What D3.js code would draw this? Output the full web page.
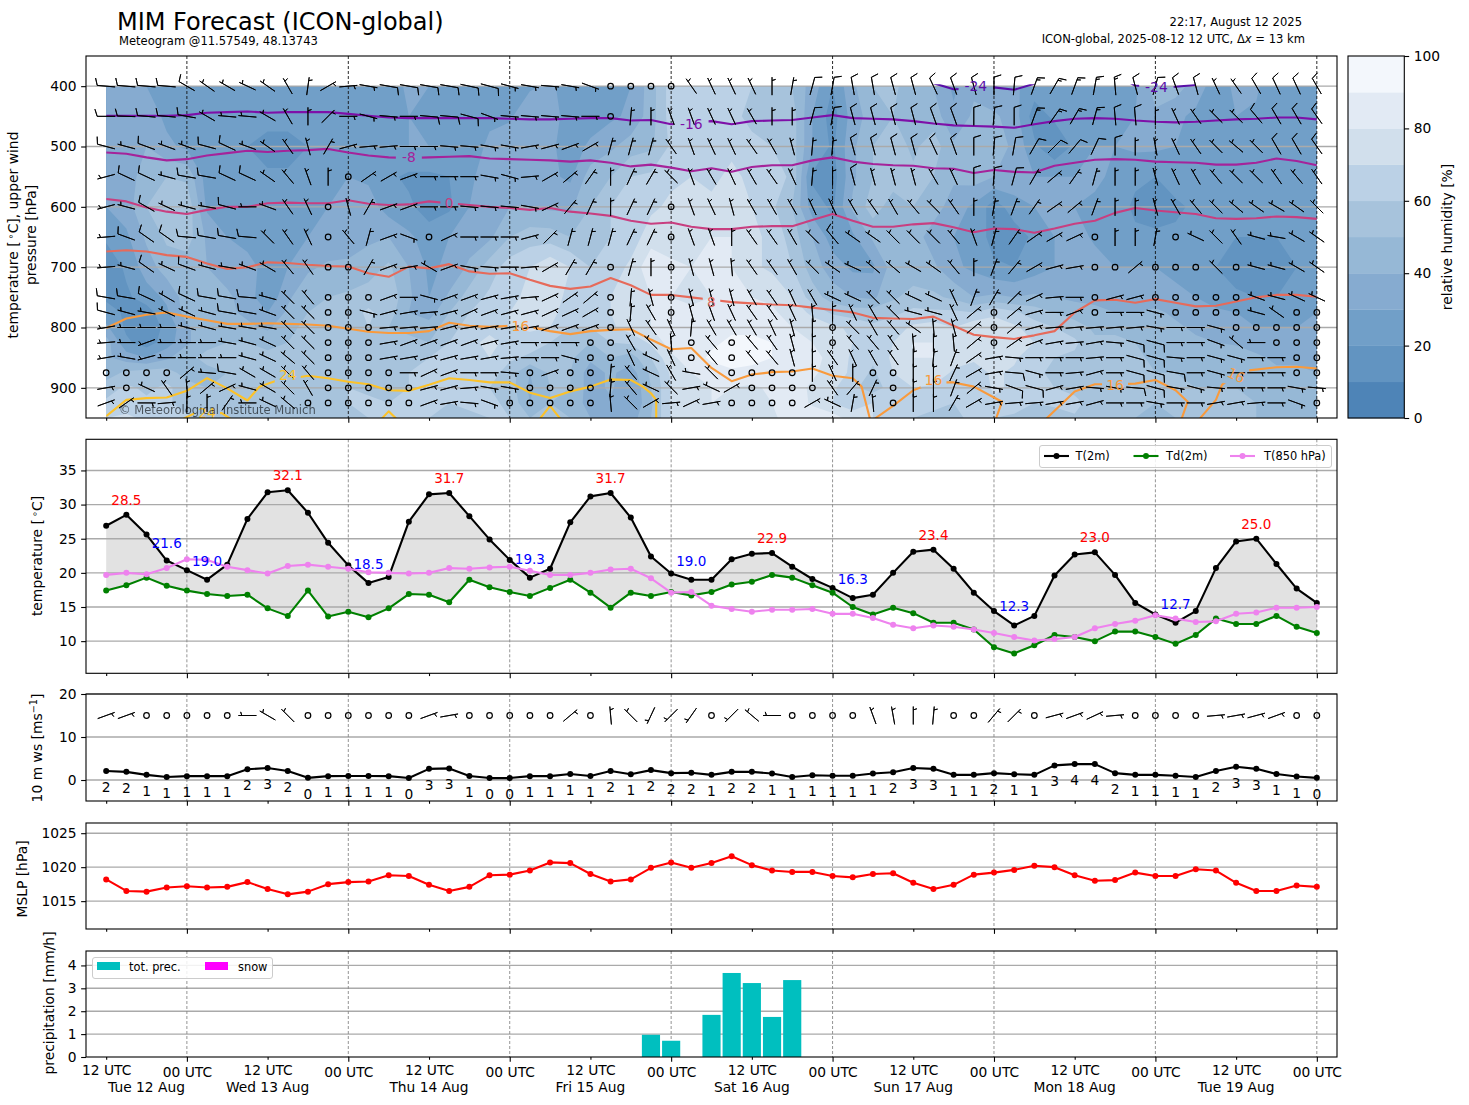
<!DOCTYPE html>
<html><head><meta charset="utf-8">
<script src="https://cdn.jsdelivr.net/npm/d3@7/dist/d3.min.js"></script>
<style>
html,body{margin:0;padding:0;background:#fff}
svg{display:block}
text{font-family:"DejaVu Sans",sans-serif;fill:#000}
</style></head><body><svg id="c" width="1469" height="1105"></svg>
<script>
// ---------- time axis ----------
const tick12 = [0,8,16,24,32,40,48,56];
const tick00 = [4,12,20,28,36,44,52,60];
const dateIdx = [2,8,16,24,32,40,48,56];
const dateLabels = ["Tue 12 Aug","Wed 13 Aug","Thu 14 Aug","Fri 15 Aug","Sat 16 Aug","Sun 17 Aug","Mon 18 Aug","Tue 19 Aug"];

// ---------- surface series ----------
const t2m = [26.9,28.5,25.6,21.8,20.4,19.0,21.2,27.9,31.8,32.1,28.8,24.4,21.1,18.5,19.4,27.5,31.5,31.7,28.3,24.9,21.9,19.3,20.6,27.4,31.2,31.7,28.1,22.4,19.9,19.0,19.0,22.0,22.8,22.9,20.9,19.1,17.8,16.3,16.8,20.0,23.1,23.4,20.6,17.1,14.4,12.3,13.7,19.6,22.7,23.0,19.7,15.6,13.9,12.7,14.4,20.7,24.6,25.0,21.3,17.7,15.6];
const td2m = [17.4,18.2,19.3,18.1,17.4,16.9,16.6,16.8,14.8,13.7,17.4,13.6,14.3,13.5,14.8,16.9,16.8,15.7,19.0,17.9,17.2,16.6,17.8,19.0,17.1,14.9,17.1,16.6,17.2,16.7,17.2,18.3,18.7,19.7,19.3,18.2,17.1,15.0,13.9,14.9,14.1,12.7,12.7,11.7,9.1,8.2,9.4,10.9,10.6,10.0,11.4,11.4,10.6,9.6,10.9,13.3,12.5,12.5,13.7,12.1,11.2];
const t850 = [19.7,20.0,19.8,20.7,22.0,21.9,20.9,20.4,19.9,21.0,21.2,20.9,20.6,20.1,20.0,19.9,20.0,20.7,20.6,20.8,20.9,20.3,19.7,19.7,20.0,20.5,20.6,19.2,17.1,17.2,15.2,14.7,14.3,14.6,14.6,14.7,14.0,14.0,13.4,12.4,11.9,12.3,12.1,11.7,11.2,10.6,10.1,10.3,10.6,11.9,12.5,13.0,13.8,13.3,12.8,12.9,14.0,14.2,14.9,14.9,15.0];
const maxIdx = [1,9,17,25,33,41,49,57];
const maxVal = [28.5,32.1,31.7,31.7,22.9,23.4,23.0,25.0];
const minIdx = [3,5,13,21,29,37,45,53];
const minVal = [21.6,19.0,18.5,19.3,19.0,16.3,12.3,12.7];
const ws10 = [2.1,1.9,1.2,0.7,0.9,0.9,0.9,2.5,2.8,2.1,0.5,0.9,0.95,0.95,0.9,0.45,2.6,2.7,0.95,0.45,0.45,0.9,0.9,1.4,0.95,2.1,1.35,2.3,1.6,1.7,1.2,1.9,1.9,1.5,0.7,1.1,1.0,1.0,1.5,1.8,2.8,2.6,1.2,1.2,1.6,1.35,1.2,3.4,3.7,3.7,1.6,1.2,1.2,1.0,0.7,2.1,3.1,2.6,1.4,0.8,0.5];
const wsLabels = [2,2,1,1,1,1,1,2,3,2,0,1,1,1,1,0,3,3,1,0,0,1,1,1,1,2,1,2,2,2,1,2,2,1,1,1,1,1,1,2,3,3,1,1,2,1,1,3,4,4,2,1,1,1,1,2,3,3,1,1,0];
const dir10 = [70,70,0,0,0,0,0,270,300,315,0,0,0,0,0,0,70,80,0,0,0,0,0,50,0,355,315,205,225,215,0,225,310,270,0,0,0,0,340,350,0,5,0,0,40,45,0,75,70,65,85,0,0,0,0,85,80,75,70,0,0];
const mslp = [1018.2,1016.5,1016.4,1017.0,1017.2,1017.0,1017.1,1017.8,1016.8,1016.0,1016.4,1017.5,1017.8,1017.9,1018.8,1018.7,1017.4,1016.5,1017.1,1018.8,1018.9,1019.5,1020.7,1020.6,1019.0,1017.9,1018.2,1019.9,1020.7,1019.9,1020.6,1021.6,1020.3,1019.5,1019.3,1019.3,1018.7,1018.5,1019.0,1019.1,1017.7,1016.8,1017.4,1018.9,1019.2,1019.6,1020.2,1020.0,1018.8,1018.0,1018.1,1019.2,1018.7,1018.7,1019.7,1019.5,1017.7,1016.5,1016.5,1017.3,1017.1];
const precIdx = [27,28,30,31,32,33,34];
const precVal = [0.97,0.71,1.84,3.67,3.23,1.75,3.36];

// ---------- relative humidity [%] on pressure levels ----------
const levelsRH = [400,450,500,550,600,650,700,750,775,800,825,850,875,900,925,950];
const rh400=[35,30,30,25,28,30,25,25,28,28,25,22,20,25,25,32,30,28,28,28,25,28,32,25,20,28,30,45,65,62,60,62,60,55,50,35,20,38,50,52,45,40,28,38,30,32,25,28,28,30,30,28,45,45,35,25,32,32,20,22,25];
const rh450=[32,32,35,28,26,25,25,20,25,25,22,22,22,25,28,30,28,25,28,28,28,40,35,25,25,28,32,45,65,65,60,62,58,55,55,30,15,35,45,50,45,45,32,42,42,35,15,22,28,28,28,30,38,32,28,28,30,28,25,22,22];
const rh500=[32,35,40,32,28,22,22,20,15,15,20,22,25,25,28,30,30,25,25,32,38,38,32,25,32,38,45,48,62,65,68,68,62,60,55,30,18,38,50,55,48,55,42,45,45,38,22,12,22,30,30,32,32,30,28,28,28,28,25,25,25];
const rh550=[30,35,45,50,48,25,22,22,22,22,25,28,30,28,22,18,18,20,28,35,35,35,32,28,45,50,60,62,68,70,68,72,68,65,58,18,15,38,50,55,52,50,42,45,40,38,30,30,30,32,28,22,20,25,25,22,25,28,28,30,30];
const rh600=[30,35,50,55,58,28,25,22,22,22,25,30,32,35,25,22,15,18,30,35,40,40,38,38,50,60,62,68,72,72,72,72,70,62,50,25,18,42,55,45,50,45,35,28,15,25,30,30,30,28,25,18,15,18,22,22,22,22,25,25,25];
const rh650=[22,28,42,52,55,38,30,25,22,28,30,32,35,38,40,32,25,30,35,38,50,55,55,50,58,60,65,75,75,78,80,80,72,68,55,40,25,28,42,42,45,35,30,28,15,15,22,30,35,28,22,22,22,22,22,20,20,20,20,22,25];
const rh700=[12,22,35,45,45,40,35,35,25,30,38,42,42,45,52,40,28,32,42,55,65,70,78,70,60,65,72,88,82,80,82,80,72,68,60,45,35,28,28,45,42,42,32,28,22,20,25,30,30,35,30,30,30,28,25,20,15,15,18,20,25];
const rh750=[18,18,25,32,45,48,42,35,22,38,48,50,52,55,58,42,30,42,55,62,68,72,78,65,62,70,78,80,80,78,80,80,80,78,70,55,45,40,38,48,55,52,48,40,42,40,42,40,38,38,35,35,35,32,30,25,22,20,20,22,25];
const rh775=[25,18,15,28,45,48,42,38,30,42,50,55,55,62,55,40,35,50,60,65,70,72,75,62,62,70,78,80,82,82,82,85,85,82,75,68,58,55,55,58,62,62,62,60,68,62,55,50,45,42,40,40,42,38,35,32,30,28,28,28,30];
const rh800=[32,18,15,22,38,48,45,42,38,48,52,55,58,60,50,45,45,55,65,68,70,72,70,60,60,68,75,80,85,85,85,88,88,88,80,75,72,68,62,65,72,75,70,78,75,72,65,60,55,48,48,48,45,42,38,35,32,30,30,30,32];
const rh825=[45,22,15,25,38,48,50,50,48,50,55,55,60,58,55,55,50,60,68,72,68,65,60,55,50,60,62,72,85,85,88,92,92,90,85,80,75,70,65,70,80,80,72,80,80,78,70,68,62,52,52,50,48,48,42,40,38,35,35,35,35];
const rh850=[42,35,30,38,48,52,50,50,52,52,55,55,60,58,58,58,60,62,65,70,62,58,55,52,42,50,45,60,78,85,92,95,92,90,85,82,78,68,62,72,80,80,75,72,78,72,62,60,58,58,55,52,48,48,45,45,48,42,38,38,38];
const rh875=[45,52,55,55,45,48,50,52,50,50,55,55,60,58,58,60,62,60,62,65,55,40,52,50,35,42,35,52,72,80,85,88,88,88,85,82,75,68,58,70,75,78,68,65,72,68,62,58,55,60,55,55,50,50,48,48,48,48,42,42,40];
const rh900=[55,62,58,62,55,50,50,52,50,50,55,55,60,58,55,60,65,62,60,60,55,38,50,50,35,42,30,50,70,78,80,80,78,82,85,78,72,62,55,65,70,68,62,60,72,68,60,60,55,55,60,52,52,50,50,50,50,48,45,42,42];
const rh925=[62,65,62,62,55,50,52,52,50,50,55,58,60,62,60,60,62,60,62,62,58,40,50,48,35,38,30,48,72,78,80,78,75,80,88,78,70,65,70,65,60,62,60,62,68,65,60,62,65,52,55,52,50,52,55,58,55,50,48,45,42];
const rh950=[70,72,68,65,62,55,55,52,52,52,52,55,58,60,62,60,60,58,58,60,60,50,50,50,40,40,35,50,70,72,78,78,78,78,85,88,85,75,70,62,60,58,58,62,60,58,55,55,58,52,50,50,48,50,55,60,55,50,48,45,42];
const rhLevels = [0,10,20,30,40,50,60,70,80,90];
const rhColors = ["#4e84b7","#6294c1","#719fc8","#86abd0","#96b8d6","#a7c3dc","#bbd1e6","#d1dfec","#e2eaf4","#f3f7fc"];

// ---------- upper wind, speed [kn] and direction [deg] ----------
const windLevels = [400,450,500,550,600,650,700,750,775,800,825,850,875,900,925];
const spd400=[10,10,10,10,10,5,5,5,5,5,5,5,5,5,10,10,10,10,10,10,5,5,5,5,5,0,0,0,0,5,5,5,5,5,5,10,10,10,10,10,10,10,10,10,10,10,15,15,15,15,15,10,10,10,10,5,5,10,10,10,10];
const dir400=[275,275,275,275,300,305,300,295,305,330,8,60,85,100,100,100,100,100,102,105,105,100,95,100,110,0,0,0,0,325,335,335,335,0,10,15,10,350,350,345,345,335,340,345,0,5,20,30,20,10,355,345,15,340,345,335,325,330,335,335,330];
const spd450=[10,10,10,10,10,5,5,5,5,5,5,5,5,5,5,5,10,10,10,5,5,5,5,5,5,0,5,5,5,5,5,5,5,5,5,10,10,10,10,10,10,10,10,10,10,10,15,15,15,15,10,10,5,5,5,5,5,10,10,10,10];
const dir450=[270,272,275,275,280,300,275,275,300,330,0,45,90,105,95,90,95,95,105,110,95,95,95,95,90,0,5,0,340,340,335,335,330,0,0,15,10,345,345,345,345,340,340,0,5,0,20,35,30,15,355,355,0,335,325,315,315,320,330,330,325];
const spd500=[10,5,10,5,5,10,10,5,5,5,5,5,5,5,5,5,5,5,5,5,5,5,5,5,5,5,5,5,5,5,5,5,5,5,5,5,5,10,10,10,10,10,10,10,10,10,10,10,10,10,10,5,5,5,5,5,5,5,10,10,10];
const dir500=[285,285,290,290,290,285,295,290,305,325,345,30,75,85,85,90,90,95,95,100,100,80,75,70,60,15,15,15,325,340,335,335,325,330,345,5,5,345,345,345,345,335,340,0,5,10,30,45,40,25,0,0,350,335,325,315,310,315,330,330,325];
const spd550=[5,10,10,5,10,10,10,10,5,5,5,5,0,5,5,5,5,5,5,5,5,5,5,5,5,5,5,5,5,5,5,5,5,5,5,5,5,10,5,5,5,5,5,10,10,10,5,5,5,5,5,5,5,5,5,5,5,5,5,5,5];
const dir550=[255,295,295,285,280,280,295,295,305,320,340,0,0,55,60,70,90,90,90,100,105,85,60,50,35,0,25,30,315,340,330,335,330,325,335,5,0,345,345,345,345,330,335,0,5,15,30,50,35,15,0,0,345,335,330,320,315,315,325,320,325];
const spd600=[5,5,10,5,5,5,10,5,5,5,5,0,5,5,5,5,5,5,5,5,5,5,5,5,5,5,5,5,0,5,5,5,5,5,5,5,5,5,5,5,5,5,5,5,5,5,5,5,5,5,5,5,5,5,5,5,5,5,5,5,5];
const dir600=[255,285,300,295,285,280,285,270,290,325,335,0,345,30,70,70,90,90,95,95,95,100,65,40,25,0,25,25,0,340,335,345,330,330,330,335,335,330,325,330,320,315,325,0,10,20,35,55,50,20,0,0,345,330,320,315,310,305,300,305,315];
const spd650=[5,10,10,10,10,10,10,10,5,5,5,0,5,5,5,5,0,5,5,5,5,5,5,5,5,5,5,5,0,5,5,5,5,5,5,5,10,5,5,5,5,5,5,5,5,5,5,5,5,0,5,5,5,0,5,5,5,5,5,5,5];
const dir650=[265,290,305,305,275,280,280,275,315,325,335,0,320,15,70,110,0,65,90,90,90,75,45,15,15,15,25,25,0,340,340,0,325,325,330,315,320,305,305,315,315,315,320,340,15,35,55,60,65,0,0,0,10,0,295,315,325,285,280,300,305];
const spd700=[5,5,10,5,10,5,5,5,5,5,5,0,0,5,5,5,5,5,5,5,5,5,5,5,5,0,5,5,0,5,5,5,5,5,5,5,5,5,5,5,5,5,5,5,5,5,5,5,5,0,0,5,0,0,0,5,0,5,5,5,5];
const dir700=[265,285,305,295,290,285,280,290,300,320,325,0,0,30,70,80,300,70,100,95,90,85,60,30,30,0,15,0,0,345,345,355,325,325,330,315,305,295,310,310,300,305,320,0,20,40,60,75,80,0,0,50,0,0,0,315,0,285,285,300,305];
const spd750=[10,10,10,5,10,10,10,10,5,5,5,0,0,0,5,5,5,5,5,5,5,5,5,5,5,0,5,5,0,5,5,5,5,5,5,5,5,5,5,5,5,5,5,5,5,5,5,5,5,0,5,5,0,0,0,0,0,5,5,5,5];
const dir750=[280,280,295,300,295,280,280,275,285,315,320,0,0,0,70,90,105,70,70,75,80,85,65,55,50,0,5,345,0,345,345,345,330,325,335,330,295,295,315,315,295,295,335,20,30,45,65,85,90,0,75,75,0,0,0,0,0,290,285,295,295];
const spd775=[10,5,5,5,5,5,10,10,5,5,5,0,0,5,5,5,5,5,5,5,5,5,5,5,5,0,5,5,0,5,5,5,5,5,5,5,5,5,5,5,5,5,5,5,0,5,5,5,5,0,5,5,5,0,0,0,0,5,5,0,0];
const dir775=[285,285,280,295,295,285,280,280,290,315,315,0,0,105,75,80,85,75,65,70,75,75,65,65,60,0,5,330,0,345,340,335,325,325,335,355,0,335,330,315,285,285,335,50,0,50,75,90,70,0,90,90,105,0,0,0,0,285,305,0,0];
const spd800=[5,5,5,5,5,5,5,5,5,5,5,0,0,0,5,5,5,5,5,5,5,5,5,5,5,0,5,5,5,5,5,5,5,5,5,5,0,5,5,5,5,5,5,5,0,5,5,5,5,5,5,5,5,5,5,5,0,0,0,0,0];
const dir800=[260,270,270,270,285,285,280,280,280,315,315,0,0,0,85,85,85,75,80,80,80,80,70,70,70,0,335,325,335,5,330,330,330,335,345,0,0,315,330,320,305,355,345,50,0,50,75,85,85,85,85,85,100,90,90,105,0,0,0,0,0];
const spd825=[5,5,5,5,5,5,5,5,5,5,5,0,0,0,5,5,5,5,5,5,5,5,5,5,0,0,5,5,5,0,5,0,5,5,5,5,0,5,5,5,5,5,5,5,0,5,5,5,5,5,5,10,10,5,5,5,5,5,0,0,0];
const dir825=[265,270,250,270,270,270,280,285,295,315,315,0,0,0,80,70,70,70,70,75,80,90,90,90,0,0,330,315,355,0,320,0,320,325,345,0,0,320,320,325,355,0,355,50,0,55,70,80,85,80,95,105,105,90,90,110,310,270,0,0,0];
const spd850=[5,5,5,5,5,5,5,5,5,5,5,0,0,0,5,5,5,5,5,5,5,5,5,5,0,0,5,5,5,0,5,0,5,5,5,5,5,5,5,5,5,5,5,5,5,5,5,5,5,5,5,10,10,5,5,5,5,5,5,0,0];
const dir850=[260,280,255,270,270,270,270,285,295,310,315,0,0,0,80,80,75,75,80,80,85,90,90,105,0,0,335,295,335,0,320,0,320,320,345,0,325,335,330,325,0,5,20,55,80,95,90,90,90,85,90,105,105,95,90,105,105,90,90,0,0];
const spd875=[0,0,0,0,5,5,10,5,5,5,5,0,0,0,0,5,5,5,5,5,5,0,5,0,0,5,5,5,5,5,5,0,0,0,0,5,5,5,0,0,5,5,5,5,5,10,5,5,5,5,5,10,10,10,5,5,5,5,5,0,0];
const dir875=[0,0,0,0,50,275,280,300,300,315,320,0,0,0,0,90,65,70,90,90,95,0,70,0,0,5,320,295,330,280,315,0,0,0,0,0,335,0,0,0,0,0,25,60,80,95,105,90,85,75,90,105,105,100,90,105,90,90,90,0,0];
const spd900=[5,0,5,5,5,5,5,5,5,5,5,0,0,0,0,0,5,5,5,5,5,0,0,0,0,5,5,5,5,5,5,5,0,0,0,0,5,5,5,0,5,5,5,5,5,10,10,5,5,5,5,10,10,5,5,5,5,5,5,5,5];
const dir900=[80,0,295,325,355,50,65,285,300,315,330,0,0,0,0,0,75,75,85,100,100,0,0,0,0,5,320,295,315,80,295,60,0,0,0,0,325,40,25,0,0,0,20,50,100,110,105,75,80,95,100,95,105,100,105,95,90,90,90,100,95];
const spd925=[5,5,5,5,5,5,5,5,5,5,0,0,0,0,0,0,5,5,5,5,0,0,0,0,0,5,5,5,5,5,5,0,0,0,0,5,5,5,5,0,5,5,5,5,5,5,5,5,5,5,5,5,5,5,5,5,5,5,5,5,0];
const dir925=[70,55,90,85,0,0,35,270,295,310,0,0,0,0,0,0,70,80,95,110,0,0,0,0,0,355,315,60,85,65,80,0,0,0,0,60,295,10,355,0,0,0,30,60,80,85,85,80,80,75,90,90,100,90,90,80,80,85,90,110,0];

// ---------- isotherms: pressure [hPa] of each temperature level ----------
const isoM24a=[[41,395],[42,405],[43,404],[44,402],[45,406],[46,396]];
const isoM24b=[[50,381],[51,399],[52,402],[53,401],[54,398]];
const isoM16=[449,449,449,449,448,444,443,442,444,443,443,443,446,449,452,453,453,453,453,453,454,455,455,454,453,453,457,456,463,460,458,463,458,457,456,452,448,453,454,455,458,462,465,466,467,469,463,458,454,453,454,457,459,460,459,457,455,454,452,452,455];
const isoM8=[510,512,518,523,521,515,511,507,509,507,506,504,510,515,518,519,518,517,516,520,521,522,523,525,523,527,533,530,535,541,536,542,534,531,531,523,518,525,529,531,532,536,537,544,539,542,543,532,527,522,521,522,525,526,527,530,530,527,520,524,531];
const iso0=[587,591,601,608,612,605,600,600,594,593,594,594,589,595,597,596,591,594,597,600,602,605,602,608,611,615,623,628,626,633,637,637,633,632,632,622,612,623,633,633,629,627,634,642,636,637,643,636,628,623,610,602,606,609,612,619,620,619,616,617,620];
const iso8=[674,672,674,680,683,694,703,700,692,693,696,698,699,710,716,699,702,695,707,711,710,721,731,736,732,718,730,746,746,750,754,758,760,762,763,767,771,775,784,785,786,782,797,812,816,819,813,806,775,755,754,759,753,759,765,764,757,750,746,746,749];
const iso16a=[[0,801],[1,785],[2,779],[3,775],[4,782],[5,788],[6,794],[7,794],[8,793],[9,794],[10,795],[11,797],[12,802],[13,807],[14,809],[15,809],[16,806],[17,792],[18,797],[19,799],[20,797],[21,799],[22,806],[23,811],[24,806],[25,804],[26,803],[27,820],[28,836],[29,834],[30,867],[31,889],[32,878],[33,874],[34,873],[35,868],[36,880],[37,884],[37.44,898],[37.85,951]];
const iso16b=[[38.1,951],[39,930],[40,904],[41,891],[42,891],[43,898],[44,916],[44.4,923],[44.1,951]];
const iso16c=[[46.6,951],[48,906],[49,894],[50,894],[51,893],[52,887],[53,904],[53.6,923],[53.3,951]];
const iso16d=[[54.2,951],[55,920],[55.3,895],[56,876],[56.65,871],[58,866],[59,865],[60,868]];
const iso24a=[[0,947],[1,920],[2,917],[3,916],[4,905],[5,884],[6,901],[7,921],[7.6,898],[8.36,889],[10,880],[11,884],[12,890],[13,894],[14,904],[15,905],[16,895],[17,884],[18,887],[19,891],[20,891],[21,908],[22,917],[23,906],[24,898],[25,886],[26,887],[26.6,898],[27,909],[27.26,920],[27.26,951]];
const iso24b=[[3.83,951],[4.4,942],[5.73,942],[6.15,951]];
const iso24c=[[13.66,951],[14,939],[14.37,951]];
const iso24d=[[21.5,951],[22,930],[22.5,951]];
const isoLabels=[
 {t:"-24",i:43.1,p:400,k:-24},{t:"-24",i:52.05,p:401,k:-24},{t:"-16",i:29,p:463,k:-16},{t:"-8",i:15,p:518,k:-8},
 {t:"0",i:17,p:594,k:0},{t:"8",i:30,p:757,k:8},{t:"16",i:20.53,p:797,k:16},{t:"24",i:9,p:879,k:24},
 {t:"24",i:5,p:942,k:24},{t:"16",i:41,p:887,k:16},{t:"16",i:50,p:895,k:16},{t:"16",i:56,p:879,k:16,r:25}];
const isoColors={"-24":"#5a10a8","-16":"#7e10a8","-8":"#a5239a","0":"#c83f80","8":"#e66a5a","16":"#f99a3c","24":"#fcc229"};

// ---------- layout ----------
const svg=d3.select("#c");
const L=86,R=1337,BASE=13.8;
const panels={up:[56,418],temp:[439.3,673.3],ws:[694,801],mslp:[823,929],prec:[951,1057]};
const x=d3.scaleLinear().domain([-1,61]).range([L,R]);
const yUp=d3.scaleLinear().domain([350,950]).range(panels.up);
const yT=d3.scaleLinear().domain([5.29,39.56]).range([673.3,439.3]);
const yWs=d3.scaleLinear().domain([-4.88,20]).range([801,694]);
const yP=d3.scaleLinear().domain([1010.9,1026.5]).range([929,823]);
const yPr=d3.scaleLinear().domain([0,4.63]).range([1057,951]);
const defs=svg.append("defs");

function vdash(g,top,bot,color){
  g.selectAll(null).data(tick00).join("line").attr("x1",d=>x(d)).attr("x2",d=>x(d)).attr("y1",top).attr("y2",bot)
   .attr("stroke",color).attr("stroke-width",0.9).attr("stroke-dasharray","3,2");
}
function hgrid(g,scale,vals){
  g.selectAll(null).data(vals).join("line").attr("x1",L).attr("x2",R).attr("y1",d=>scale(d)).attr("y2",d=>scale(d))
   .attr("stroke","#aaaaaa").attr("stroke-width",1.4);
}
function frame(top,bot,left=L,right=R){
  svg.append("rect").attr("x",left).attr("y",top).attr("width",right-left).attr("height",bot-top)
   .attr("fill","none").attr("stroke","#000").attr("stroke-width",1.1);
}
function axes(scale,vals,bot,labels){
  const gy=svg.append("g").attr("transform",`translate(${L},0)`)
    .call(d3.axisLeft(scale).tickValues(vals).tickSize(4.86).tickPadding(4.5).tickFormat(d3.format("d")));
  const g12=svg.append("g").attr("transform",`translate(0,${bot})`)
    .call(d3.axisBottom(x).tickValues(tick12).tickSize(2.78).tickPadding(5.2).tickFormat(()=>labels?"12 UTC":""));
  const g00=svg.append("g").attr("transform",`translate(0,${bot})`)
    .call(d3.axisBottom(x).tickValues(tick00).tickSize(4.86).tickPadding(5.1).tickFormat(()=>labels?"00 UTC":""));
  [gy,g12,g00].forEach(g=>{g.select(".domain").remove();
    g.selectAll("text").style("font-family",'"DejaVu Sans"').style("font-size",BASE+"px").attr("fill","#000");
    g.selectAll("line").attr("stroke-width",1.1);});
}
function ylabel(tx,ty,lines){
  const t=svg.append("text").attr("transform",`translate(${tx},${ty}) rotate(-90)`).attr("text-anchor","middle").style("font-size","13.89px");
  lines(t);
}
function series(g,scale,vals,color,lw=2.1,r=3){
  const line=d3.line().x((d,i)=>x(i)).y(d=>scale(d));
  g.append("path").attr("d",line(vals)).attr("fill","none").attr("stroke",color).attr("stroke-width",lw).attr("stroke-linejoin","round");
  g.selectAll(null).data(vals).join("circle").attr("cx",(d,i)=>x(i)).attr("cy",d=>scale(d)).attr("r",r).attr("fill",color);
}
// wind barb, same construction as a pivot-middle barb symbol
const BL=18,SP=BL*0.125,FH=BL*0.4,FW=BL*0.25;
function barb(g,i,yy,spd,dir){
  const cx=x(i);
  const s=Math.round(spd/5)*5;
  if(s===0){ g.append("circle").attr("cx",cx).attr("cy",yy).attr("r",2.8).attr("fill","none").attr("stroke","#000").attr("stroke-width",1.2); return; }
  const a=dir*Math.PI/180,u=-s*Math.sin(a),v=-s*Math.cos(a);
  const th=Math.atan2(v,u)+Math.PI/2;
  const ey=-BL/2;let off=BL;const pts=[[0,ey]];
  let n10=Math.floor(s/10),n5=(s%10)>=5?1:0;
  for(let k=0;k<n10;k++){pts.push([0,ey+off],[FH,ey+off+FW/2],[0,ey+off]);off-=SP;}
  if(n5){ if(off===BL){pts.push([0,ey+off]);off-=1.5*SP;} pts.push([0,ey+off],[FH/2,ey+off+FW/4],[0,ey+off]); }
  const d="M"+pts.map(p=>[cx+p[0]*Math.cos(th)-p[1]*Math.sin(th), yy-(p[0]*Math.sin(th)+p[1]*Math.cos(th))].map(q=>q.toFixed(2)).join(",")).join("L")+"Z";
  g.append("path").attr("d",d).attr("fill","none").attr("stroke","#000").attr("stroke-width",0.9).attr("stroke-linejoin","round");
}

// ---------- panel 1 ----------
const rhRows=[rh400,rh450,rh500,rh550,rh600,rh650,rh700,rh750,rh775,rh800,rh825,rh850,rh875,rh900,rh925,rh950];
const idxToP=d3.scaleLinear().domain(d3.range(16)).range(levelsRH).clamp(true);
const colX=d3.scaleLinear().domain([0,60]).range([0,60]).clamp(true);
const cont=d3.contours().size([61,16]).thresholds(rhLevels)(rhRows.flat());
const gRH=svg.append("g");
cont.forEach((c,ci)=>{
  let d="";
  c.coordinates.forEach(poly=>poly.forEach(ring=>{
    d+="M"+ring.map(p=>x(colX(p[0]-0.5)).toFixed(2)+","+yUp(idxToP(p[1]-0.5)).toFixed(2)).join("L")+"Z";
  }));
  gRH.append("path").attr("d",d).attr("fill",rhColors[ci]).attr("fill-rule","evenodd");
});
const gUp=svg.append("g");
hgrid(gUp,yUp,[400,500,600,700,800,900]);
vdash(gUp,56,418,"#111");
// isotherms
defs.append("clipPath").attr("id","isoClip").append("rect").attr("x",x(0)).attr("y",yUp(400)-2).attr("width",x(60)-x(0)).attr("height",418-yUp(400)+2);
const mask=defs.append("mask").attr("id","isoMask").attr("maskUnits","userSpaceOnUse").attr("x",0).attr("y",0).attr("width",1469).attr("height",1105);
mask.append("rect").attr("width",1469).attr("height",1105).attr("fill","#fff");
isoLabels.forEach(l=>{const w=9+8.5*l.t.length;
  mask.append("rect").attr("x",x(l.i)-w/2).attr("y",yUp(l.p)-8).attr("width",w).attr("height",16).attr("fill","#000");});
const gIso=svg.append("g").attr("clip-path","url(#isoClip)").append("g").attr("mask","url(#isoMask)");
const toPairs=a=>a.map((p,i)=>[i,p]);
const isoSets=[[-24,[isoM24a,isoM24b]],[-16,[toPairs(isoM16)]],[-8,[toPairs(isoM8)]],[0,[toPairs(iso0)]],[8,[toPairs(iso8)]],[16,[iso16a,iso16b,iso16c,iso16d]],[24,[iso24a,iso24b,iso24c,iso24d]]];
const isoLine=d3.line().x(d=>x(d[0])).y(d=>yUp(d[1]));
isoSets.forEach(([k,segs])=>segs.forEach(s=>gIso.append("path").attr("d",isoLine(s)).attr("fill","none")
  .attr("stroke",isoColors[k]).attr("stroke-width",2.1).attr("stroke-linejoin","round")));
// barbs
const gBarb=svg.append("g");
const spdRows=[spd400,spd450,spd500,spd550,spd600,spd650,spd700,spd750,spd775,spd800,spd825,spd850,spd875,spd900,spd925];
const dirRows=[dir400,dir450,dir500,dir550,dir600,dir650,dir700,dir750,dir775,dir800,dir825,dir850,dir875,dir900,dir925];
windLevels.forEach((p,r)=>spdRows[r].forEach((s,i)=>barb(gBarb,i,yUp(p),s,dirRows[r][i])));
// contour labels
isoLabels.forEach(l=>{svg.append("text").attr("x",x(l.i)).attr("y",yUp(l.p)).attr("dy","0.36em").attr("text-anchor","middle")
  .attr("transform",l.r?`rotate(${l.r},${x(l.i)},${yUp(l.p)})`:null).style("font-size","13.89px").style("fill",isoColors[l.k]).text(l.t);});
svg.append("text").attr("x",119).attr("y",414).style("font-size","11.55px").style("fill","#000").style("opacity",0.6).text("© Meteorological Institute Munich");
axes(yUp,[400,500,600,700,800,900],418,false);
frame(56,418);
ylabel(18,235,t=>{t.append("tspan").text("temperature [");t.append("tspan").attr("dy",-4).attr("dx",2).style("font-size","9.7px").text("∘");t.append("tspan").attr("dy",4).text("C], upper wind");});
ylabel(36,235,t=>t.text("pressure [hPa]"));

// colorbar
const CL=1348,CR=1404.3;
const yC=d3.scaleLinear().domain([0,100]).range([418,56]);
svg.append("g").selectAll("rect").data(rhLevels).join("rect").attr("x",CL).attr("width",CR-CL)
  .attr("y",d=>yC(d+10)).attr("height",d=>yC(d)-yC(d+10)+0.3).attr("fill",(d,i)=>rhColors[i]);
frame(56,418,CL,CR);
const gC=svg.append("g").attr("transform",`translate(${CR},0)`).call(d3.axisRight(yC).tickValues([0,20,40,60,80,100]).tickSize(4.86).tickPadding(4.5));
gC.select(".domain").remove();gC.selectAll("text").style("font-family",'"DejaVu Sans"').style("font-size",BASE+"px");gC.selectAll("line").attr("stroke-width",1.1);
ylabel(1452,237,t=>t.text("relative humidity [%]"));

// ---------- panel 2 ----------
const gT=svg.append("g");
gT.append("path").attr("d",d3.area().x((d,i)=>x(i)).y0((d,i)=>yT(td2m[i])).y1(d=>yT(d))(t2m)).attr("fill","#e2e2e2");
hgrid(gT,yT,[10,15,20,25,30,35]);
vdash(gT,439.3,673.3,"#888");
series(gT,yT,t2m,"#000");
series(gT,yT,td2m,"#008000");
series(gT,yT,t850,"#ee82ee");
maxIdx.forEach((m,k)=>gT.append("text").attr("x",x(m)).attr("y",yT(maxVal[k])-10).attr("text-anchor","middle").style("font-size","13.5px").style("fill","#f00").text(maxVal[k].toFixed(1)));
minIdx.forEach((m,k)=>gT.append("text").attr("x",x(m)).attr("y",yT(minVal[k])-14).attr("text-anchor","middle").style("font-size","13.5px").style("fill","#00f").text(minVal[k].toFixed(1)));
axes(yT,[10,15,20,25,30,35],673.3,false);
frame(439.3,673.3);
ylabel(42,556,t=>{t.append("tspan").text("temperature [");t.append("tspan").attr("dy",-4).attr("dx",2).style("font-size","9.7px").text("∘");t.append("tspan").attr("dy",4).text("C]");});
// legend
const lg=svg.append("g");
lg.append("rect").attr("x",1039.5).attr("y",445.5).attr("width",292).attr("height",22).attr("rx",2.5).attr("fill","#fff").attr("fill-opacity",0.85).attr("stroke","#ccc");
[["T(2m)","#000",1044,1075.5],["Td(2m)","#008000",1133.5,1166],["T(850 hPa)","#ee82ee",1230,1264]].forEach(([n,c,x0,xt])=>{
  lg.append("line").attr("x1",x0).attr("x2",x0+25).attr("y1",456).attr("y2",456).attr("stroke",c).attr("stroke-width",2.1);
  lg.append("circle").attr("cx",x0+12.5).attr("cy",456).attr("r",3).attr("fill",c);
  lg.append("text").attr("x",xt).attr("y",460).style("font-size","11.4px").text(n);
});

// ---------- panel 3 ----------
const gW=svg.append("g");
hgrid(gW,yWs,[0,10,20]);
vdash(gW,694,801,"#888");
series(gW,yWs,ws10,"#000");
ws10.forEach((v,i)=>{
  gW.append("text").attr("x",x(i)).attr("y",yWs(v)+16).attr("dy","0.36em").attr("text-anchor","middle").style("font-size",BASE+"px").text(wsLabels[i]);
  barb(gW,i,yWs(15),v*1.94384,dir10[i]);
});
axes(yWs,[0,10,20],801,false);
frame(694,801);
ylabel(42,748,t=>{t.append("tspan").text("10 m ws [ms");t.append("tspan").attr("dy",-5).style("font-size","9.7px").text("−1");t.append("tspan").attr("dy",5).text("]");});

// ---------- panel 4 ----------
const gM=svg.append("g");
hgrid(gM,yP,[1015,1020,1025]);
vdash(gM,823,929,"#888");
series(gM,yP,mslp,"#f00");
axes(yP,[1015,1020,1025],929,false);
frame(823,929);
ylabel(27,879,t=>t.text("MSLP [hPa]"));

// ---------- panel 5 ----------
const gR=svg.append("g");
hgrid(gR,yPr,[1,2,3,4]);
vdash(gR,951,1057,"#888");
const bw=x(0.9)-x(0);
gR.selectAll("rect").data(precIdx).join("rect").attr("x",d=>x(d)-bw/2).attr("width",bw)
  .attr("y",(d,k)=>yPr(precVal[k])).attr("height",(d,k)=>yPr(0)-yPr(precVal[k])).attr("fill","#00bfbf");
axes(yPr,[0,1,2,3,4],1057,true);
frame(951,1057);
ylabel(54,1003,t=>t.text("precipitation [mm/h]"));
const lp=svg.append("g");
lp.append("rect").attr("x",92.5).attr("y",957.5).attr("width",180).attr("height",21).attr("rx",2.5).attr("fill","#fff").attr("fill-opacity",0.85).attr("stroke","#ccc");
[["tot. prec.","#00bfbf",97,129],["snow","#ff00ff",205,238]].forEach(([n,c,x0,xt])=>{
  lp.append("rect").attr("x",x0).attr("y",962).attr("width",23).attr("height",8).attr("fill",c);
  lp.append("text").attr("x",xt).attr("y",971).style("font-size","11.4px").text(n);
});
dateIdx.forEach((d,k)=>svg.append("text").attr("x",x(d)).attr("y",1092).attr("text-anchor","middle").style("font-size",BASE+"px").text(dateLabels[k]));

// ---------- titles ----------
svg.append("text").attr("x",117).attr("y",30).style("font-size","24px").text("MIM Forecast (ICON-global)");
svg.append("text").attr("x",119).attr("y",45).style("font-size","11.55px").text("Meteogram @11.57549, 48.13743");
svg.append("text").attr("x",1302).attr("y",26).attr("text-anchor","end").style("font-size","11.55px").text("22:17, August 12 2025");
const tr=svg.append("text").attr("x",1305).attr("y",43).attr("text-anchor","end").style("font-size","11.55px");
tr.append("tspan").text("ICON-global, 2025-08-12 12 UTC, Δ");
tr.append("tspan").style("font-style","italic").text("x");
tr.append("tspan").text(" = 13 km");
</script></body></html>
